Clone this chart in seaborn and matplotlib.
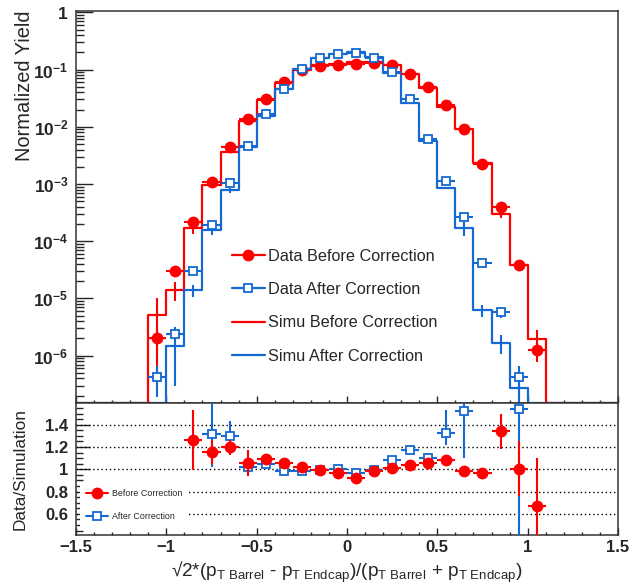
import numpy as np
import matplotlib
matplotlib.use("Agg")
import matplotlib.pyplot as plt
from matplotlib.lines import Line2D
from matplotlib.ticker import FixedLocator, MultipleLocator, FuncFormatter, NullFormatter
import seaborn as sns

# ---- data ----
bin_edges = [-1.1, -1.0, -0.9, -0.8, -0.7, -0.6, -0.5, -0.4, -0.3, -0.2, -0.1, 0.0,
             0.1, 0.2, 0.3, 0.4, 0.5, 0.6, 0.7, 0.8, 0.9, 1.0, 1.1]
bin_centers = [-1.05, -0.95, -0.85, -0.75, -0.65, -0.55, -0.45, -0.35, -0.25, -0.15, -0.05,
               0.05, 0.15, 0.25, 0.35, 0.45, 0.55, 0.65, 0.75, 0.85, 0.95, 1.05]

data_before = [2.0e-6, 3.0e-5, 2.2e-4, 1.1e-3, 4.5e-3, 0.0134, 0.031, 0.060, 0.099, 0.117, 0.121,
               0.126, 0.132, 0.122, 0.085, 0.050, 0.024, 0.0090, 2.26e-3, 3.9e-4, 3.8e-5, 1.27e-6]
data_before_err = [1.2e-6, 5e-6, 2.5e-5, 6e-5, 0, 0, 0, 0, 0, 0, 0,
                   0, 0, 0, 0, 0, 0, 0, 0, 3e-5, 6e-6, 5e-7]
data_after = [4.3e-7, 2.4e-6, 3.0e-5, 1.9e-4, 1.05e-3, 4.6e-3, 0.0166, 0.045, 0.101, 0.158, 0.188,
              0.192, 0.162, 0.092, 0.030, 6.2e-3, 1.13e-3, 2.6e-4, 4.2e-5, 5.7e-6, 4.3e-7, np.nan]
data_after_err = [2.4e-7, 8e-7, 3e-6, 1.5e-5, 5e-5, 0, 0, 0, 0, 0, 0,
                  0, 0, 0, 0, 0, 6e-5, 5e-5, 5e-6, 1.2e-6, 2.3e-7, np.nan]

simu_before = [5.2e-6, 1.4e-5, 1.73e-4, 9.5e-4, 3.66e-3, 0.0124, 0.029, 0.058, 0.100, 0.118, 0.125,
               0.136, 0.134, 0.121, 0.083, 0.048, 0.0223, 0.0091, 2.3e-3, 2.95e-4, 3.8e-5, 1.96e-6]
simu_before_err = [4.8e-6, 5e-6, 3.7e-5, 1e-4, 0, 0, 0, 0, 0, 0, 0,
                   0, 0, 0, 0, 0, 0, 0, 0, 4e-5, 8e-6, 9e-7]
simu_after = [0, 1.5e-6, 1.4e-5, 1.55e-4, 7.8e-4, 4.45e-3, 0.0157, 0.0455, 0.101, 0.156, 0.187,
              0.199, 0.164, 0.0855, 0.026, 5.65e-3, 8.55e-4, 1.7e-4, 6.2e-6, 1.66e-6, 2.7e-7, 0]
simu_after_err = [0, 1.2e-6, 3.5e-6, 2.5e-5, 8e-5, 0, 0, 0, 0, 0, 0,
                  0, 0, 0, 0, 0, 0, 4.5e-5, 1.4e-6, 6e-7, 1.5e-7, 0]

ratio_before_x = [-0.85, -0.75, -0.65, -0.55, -0.45, -0.35, -0.25, -0.15, -0.05, 0.05,
                  0.15, 0.25, 0.35, 0.45, 0.55, 0.65, 0.75, 0.85, 0.95, 1.05]
ratio_before = [1.263, 1.155, 1.197, 1.056, 1.09, 1.06, 1.023, 0.994, 0.964, 0.925,
                0.982, 1.012, 1.036, 1.056, 1.083, 0.985, 0.97, 1.34, 1.006, 0.671]
ratio_before_err = [0.27, 0.105, 0.065, 0.12, 0.02, 0.015, 0.012, 0.01, 0.01, 0.01,
                    0.01, 0.01, 0.012, 0.015, 0.02, 0.025, 0.03, 0.16, 0.25, 0.43]

ratio_after_x = [-0.75, -0.65, -0.55, -0.45, -0.35, -0.25, -0.15, -0.05, 0.05, 0.15,
                 0.25, 0.35, 0.45, 0.55, 0.65, 0.95]
ratio_after = [1.317, 1.30, 1.023, 1.048, 0.982, 0.988, 0.995, 1.003, 0.964, 0.99,
               1.086, 1.17, 1.099, 1.328, 1.52, 1.54]
ratio_after_lo = [0.3, 0.12, 0.015, 0.015, 0.01, 0.01, 0.01, 0.01, 0.01, 0.01,
                  0.012, 0.015, 0.025, 0.11, 0.42, 1.5]
ratio_after_hi = [0.3, 0.13, 0.015, 0.015, 0.01, 0.01, 0.01, 0.01, 0.01, 0.01,
                  0.012, 0.015, 0.025, 0.2, 0.42, 1.5]

RED = '#ff0000'
BLUE = '#1469d2'
YMIN, YMAX = 1.49e-7, 1.054

sns.set_style("ticks")
plt.rcParams['font.family'] = ['Liberation Sans', 'DejaVu Sans']
plt.rcParams['mathtext.fontset'] = 'custom'
plt.rcParams['mathtext.rm'] = 'Liberation Sans'
plt.rcParams['mathtext.it'] = 'Liberation Sans:italic'
plt.rcParams['mathtext.bf'] = 'Liberation Sans:bold'


def step_points(values):
    # steps-post outline, empty bins sit on the bottom of the frame
    xs = [-1.5] + bin_edges[:-1] + [bin_edges[-1], 1.5]
    vals = [v if v > 0 else YMIN for v in values]
    ys = [YMIN] + vals + [YMIN, YMIN]
    return xs, ys


fig = plt.figure(figsize=(6.42, 5.87), dpi=100)
ax1 = fig.add_axes([0.1184, 0.3135, 0.8442, 0.6678])
ax2 = fig.add_axes([0.1184, 0.0886, 0.8442, 0.2249], sharex=ax1)

# ---- top panel ----
ax1.set_yscale('log')
for vals, errs, col in [(simu_before, simu_before_err, RED), (simu_after, simu_after_err, BLUE)]:
    xs, ys = step_points(vals)
    sns.lineplot(x=xs, y=ys, drawstyle='steps-post', estimator=None, sort=False,
                 color=col, lw=1.6, ax=ax1)
    v = np.array(vals, dtype=float)
    e = np.array(errs, dtype=float)
    mask = (v > 0) & (e > 0)
    ax1.errorbar(np.array(bin_centers)[mask], v[mask], yerr=e[mask], fmt='none',
                 ecolor=col, elinewidth=1.5, capsize=0)

ax1.errorbar(bin_centers, data_before, xerr=0.05, yerr=data_before_err, fmt='o', color=RED,
             ms=7.5, elinewidth=1.5, capsize=0, zorder=4)
ax1.errorbar(bin_centers, data_after, xerr=0.05, yerr=data_after_err, fmt='s', color=BLUE,
             mfc='white', mec=BLUE, mew=1.3, ms=6, elinewidth=1.5, capsize=0, zorder=5)

ax1.set_xlim(-1.5, 1.5)
ax1.set_ylim(YMIN, YMAX)


def log_label(v, pos):
    p = int(round(np.log10(v)))
    if p == 0:
        return r'$\mathbf{1}$'
    return r'$\mathbf{10^{%d}}$' % p


# only the decades inside the frame get a label
decades = [1e-6, 1e-5, 1e-4, 1e-3, 1e-2, 1e-1, 1.0]
minor_ticks = [m * d for d in [1e-7] + decades[:-1] for m in range(2, 10) if YMIN <= m * d <= YMAX]
ax1.yaxis.set_major_locator(FixedLocator(decades))
ax1.yaxis.set_minor_locator(FixedLocator(minor_ticks))
ax1.yaxis.set_major_formatter(FuncFormatter(log_label))
ax1.yaxis.set_minor_formatter(NullFormatter())
ax1.xaxis.set_major_locator(MultipleLocator(0.5))
ax1.xaxis.set_minor_locator(MultipleLocator(0.1))
ax1.tick_params(axis='y', which='major', direction='in', length=12, width=1, labelsize=12.5, pad=5.5)
ax1.tick_params(axis='y', which='minor', direction='in', length=6, width=1)
ax1.tick_params(axis='x', which='major', direction='in', length=5, width=1, labelbottom=False)
ax1.tick_params(axis='x', which='minor', direction='in', length=2.5, width=1)
ax1.set_ylabel('Normalized Yield', fontsize=14.4, loc='top')
ax1.yaxis.set_label_coords(-0.078, 1.0)
ax1.set_xlabel('')

handles = [
    Line2D([], [], color=RED, marker='o', ms=7.5, lw=1.6),
    Line2D([], [], color=BLUE, marker='s', ms=6, mfc='white', mew=1.3, lw=1.6),
    Line2D([], [], color=RED, lw=1.6),
    Line2D([], [], color=BLUE, lw=1.6),
]
labels = ['Data Before Correction', 'Data After Correction',
          'Simu Before Correction', 'Simu After Correction']
ax1.legend(handles, labels, loc='center left', bbox_to_anchor=(0.273, 0.247), frameon=False,
           fontsize=11.7, handlelength=2.0, handletextpad=0.2, labelspacing=1.13, borderpad=0)

# ---- ratio panel ----
for yv in [0.6, 0.8, 1.0, 1.2, 1.4]:
    ax2.axhline(yv, color='black', ls=(0, (1, 2)), lw=1, zorder=1)

ax2.errorbar(ratio_before_x, ratio_before, xerr=0.05, yerr=ratio_before_err, fmt='o', color=RED,
             ms=7.5, elinewidth=1.5, capsize=0, zorder=4)
ax2.errorbar(ratio_after_x, ratio_after, xerr=0.05, yerr=[ratio_after_lo, ratio_after_hi], fmt='s',
             color=BLUE, mfc='white', mec=BLUE, mew=1.3, ms=6, elinewidth=1.5, capsize=0, zorder=3)

ax2.set_ylim(0.41, 1.595)
ax2.yaxis.set_major_locator(MultipleLocator(0.2))
ax2.yaxis.set_minor_locator(MultipleLocator(0.05))
ax2.yaxis.set_major_formatter(FuncFormatter(lambda v, p: '%g' % round(v, 2)))
ax2.xaxis.set_major_formatter(FuncFormatter(lambda v, p: ('%g' % round(v, 2)).replace('-', '\u2212')))
ax2.tick_params(axis='y', which='major', direction='in', length=10, width=1, labelsize=12, pad=5.5)
ax2.tick_params(axis='y', which='minor', direction='in', length=5, width=1)
ax2.tick_params(axis='x', which='major', direction='in', length=5, width=1, labelsize=12, pad=3.5)
ax2.tick_params(axis='x', which='minor', direction='in', length=2.5, width=1)
for lab in ax2.get_xticklabels() + ax2.get_yticklabels():
    lab.set_fontweight('bold')
ax2.set_ylabel('Data/Simulation', fontsize=12.4)
ax2.yaxis.set_label_coords(-0.09, 0.5)
ax2.set_xlabel('\u221a2*(p$_{\\mathrm{T\\ Barrel}}$ - p$_{\\mathrm{T\\ Endcap}}$)/'
               '(p$_{\\mathrm{T\\ Barrel}}$ + p$_{\\mathrm{T\\ Endcap}}$)', fontsize=13.7)
ax2.xaxis.set_label_coords(0.5, -0.185)

rhandles = [
    Line2D([], [], color=RED, marker='o', ms=7.5, lw=1.5),
    Line2D([], [], color=BLUE, marker='s', ms=6, mfc='white', mew=1.3, lw=1.5),
]
leg2 = ax2.legend(rhandles, ['Before Correction', 'After Correction'], loc='lower left',
                  bbox_to_anchor=(0.0, 0.03), frameon=True, facecolor='white', edgecolor='none',
                  framealpha=1, fancybox=False, fontsize=6.4, handlelength=2.5, handletextpad=0.5,
                  labelspacing=1.6, borderpad=0.6)
leg2.set_zorder(6)

for ax in (ax1, ax2):
    for side in ['left', 'bottom', 'top', 'right']:
        ax.spines[side].set_visible(True)
        ax.spines[side].set_linewidth(1.1)
        ax.spines[side].set_color('#333333')

fig.savefig('out.png', dpi=100)
